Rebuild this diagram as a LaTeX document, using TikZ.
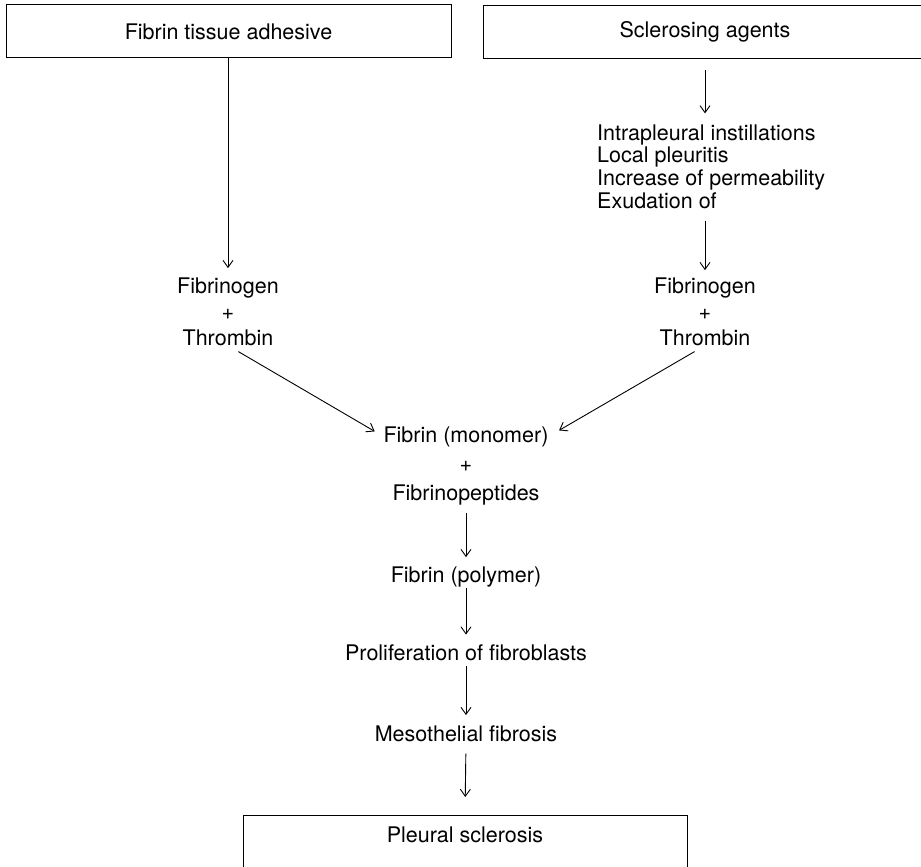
\documentclass[tikz,border=0pt]{standalone}
\usepackage{fontspec}
\setmainfont{TeX Gyre Heros}
\usetikzlibrary{arrows.meta}

\tikzset{
  box/.style={draw, line width=1pt, minimum width=445pt, minimum height=53pt, inner sep=0pt,
    font=\fontsize{21.5}{22.7}\selectfont},
  txt/.style={inner sep=0pt, anchor=base, font=\fontsize{21.5}{22.7}\selectfont},
  flow/.style={line width=0.9pt, -{Straight Barb[length=7pt,width=10pt]}},
}

\begin{document}
\begin{tikzpicture}[x=1pt, y=1pt]
  \useasboundingbox (0,0) rectangle (921,-867);

  % the two sources
  \node[box] (adhesive) at (228.5,-31.5) {Fibrin tissue adhesive};
  \node[box, minimum width=444pt] (agents) at (705,-32) {Sclerosing agents};

  \node[txt, anchor=north west, align=left] (steps) at (597,-124.4)
    {Intrapleural instillations\\Local pleuritis\\Increase of permeability\\Exudation of};

  % fibrinogen + thrombin on both sides
  \foreach \x/\s in {228/L, 705/R} {
    \node[txt] (fib\s) at (\x,-293) {Fibrinogen};
    \node[txt] (plus\s) at (\x,-319) {+};
    \node[txt] (thr\s) at (\x,-345) {Thrombin};
  }

  % common pathway
  \node[txt] (mono) at (466,-442) {Fibrin (monomer)};
  \node[txt] (plusM) at (466,-471) {+};
  \node[txt] (pept) at (466,-500) {Fibrinopeptides};
  \node[txt] (poly) at (466,-582) {Fibrin (polymer)};
  \node[txt] (prolif) at (466,-660) {Proliferation of fibroblasts};
  \node[txt] (meso) at (466,-741) {Mesothelial fibrosis};
  \node[box, minimum width=444pt, anchor=north, text height=27pt, text depth=40pt]
    (pleural) at (465,-815) {Pleural sclerosis};

  \draw[flow, shorten >=9pt] (adhesive.south -| fibL) -- (fibL.north);
  \draw[flow, shorten <=11pt, shorten >=11pt] (agents.south) -- (agents.south |- steps.north);
  \draw[flow, shorten <=12pt, shorten >=7pt] (fibR.north |- steps.south) -- (fibR.north);
  \draw[flow, shorten <=12pt, shorten >=10pt] (thrL.south) -- (mono.west);
  \draw[flow, shorten <=12pt, shorten >=12pt] (thrR.south) -- (mono.east);

  \foreach \a/\b/\s/\e in {pept/poly/8/9, poly/prolif/1.5/9.5, prolif/meso/5/10, meso/pleural/12/18}
    \draw[flow, shorten <=\s pt, shorten >=\e pt] (\a.south) -- (\b.north);
\end{tikzpicture}
\end{document}
